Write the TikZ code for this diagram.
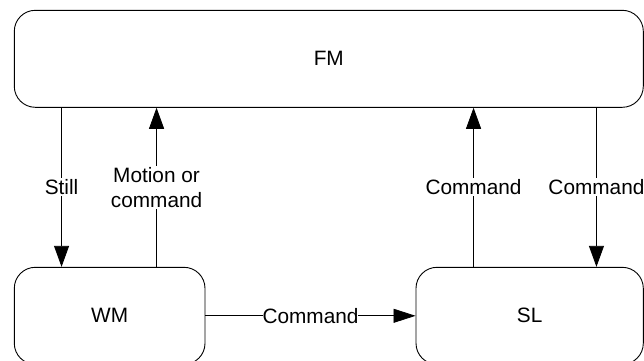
\documentclass[tikz,border=0pt]{standalone}
\usepackage{fontspec}
\setmainfont{Liberation Sans}
\usetikzlibrary{arrows.meta}
\begin{document}
\begin{tikzpicture}[x=1pt,y=-1pt,
  box/.style={draw=black,line width=0.9pt,rounded corners=21pt,inner sep=0pt},
  arr/.style={draw=black,line width=0.8pt,-{Triangle[length=21pt,width=15pt]}},
  lbl/.style={fill=white,inner xsep=0pt,inner ysep=1.5pt,align=center,font=\fontsize{20.8}{25}\selectfont},
  every node/.append style={font=\fontsize{20.8}{25}\selectfont}]
\useasboundingbox (0,0) rectangle (644,360);
\clip (0,0) rectangle (644,360);
\node[box,minimum width=629pt,minimum height=97pt] (FM) at (328.8,58.8) {FM};
\node[box,minimum width=190.7pt,minimum height=97pt] (WM) at (109.65,315.8) {WM};
\node[box,minimum width=227.3pt,minimum height=97pt] (SL) at (529.65,315.8) {SL};
\draw[arr] ([xshift=47.7pt]FM.south west) -- node[lbl]{Still} ([xshift=47.7pt]WM.north west);
\draw[arr] ([xshift=142.7pt]WM.north west) -- node[lbl]{Motion or\\command} ([xshift=142.7pt]FM.south west);
\draw[arr] ([xshift=58pt]SL.north west) -- node[lbl]{Command} ([xshift=459.7pt]FM.south west);
\draw[arr] ([xshift=-47.3pt]FM.south east) -- node[lbl]{Command} ([xshift=-47.3pt]SL.north east);
\draw[arr,-{Triangle[length=22pt,width=14pt]}] (WM.east) -- node[lbl]{Command} (SL.west);
\end{tikzpicture}
\end{document}
